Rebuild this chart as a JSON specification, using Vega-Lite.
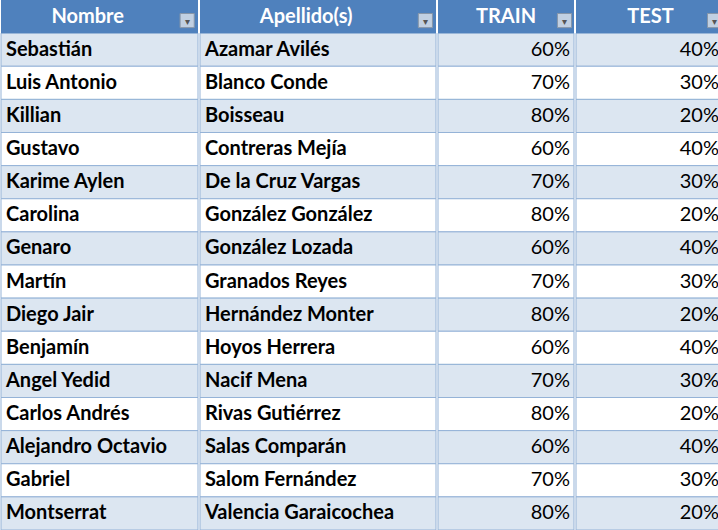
{
  "$schema": "https://vega.github.io/schema/vega-lite/v6.json",
  "padding": 0,
  "spacing": 0,
  "config": {"view": {"stroke": null}, "concat": {"spacing": 0}},
  "datasets": {
    "people": [
      {"i": 1, "nombre": "Sebastián", "apellido": "Azamar Avilés", "train": 0.6, "test": 0.4},
      {"i": 2, "nombre": "Luis Antonio", "apellido": "Blanco Conde", "train": 0.7, "test": 0.3},
      {"i": 3, "nombre": "Killian", "apellido": "Boisseau", "train": 0.8, "test": 0.2},
      {"i": 4, "nombre": "Gustavo", "apellido": "Contreras Mejía", "train": 0.6, "test": 0.4},
      {"i": 5, "nombre": "Karime Aylen", "apellido": "De la Cruz Vargas", "train": 0.7, "test": 0.3},
      {"i": 6, "nombre": "Carolina", "apellido": "González González", "train": 0.8, "test": 0.2},
      {"i": 7, "nombre": "Genaro", "apellido": "González Lozada", "train": 0.6, "test": 0.4},
      {"i": 8, "nombre": "Martín", "apellido": "Granados Reyes", "train": 0.7, "test": 0.3},
      {"i": 9, "nombre": "Diego Jair", "apellido": "Hernández Monter", "train": 0.8, "test": 0.2},
      {"i": 10, "nombre": "Benjamín", "apellido": "Hoyos Herrera", "train": 0.6, "test": 0.4},
      {"i": 11, "nombre": "Angel Yedid", "apellido": "Nacif Mena", "train": 0.7, "test": 0.3},
      {"i": 12, "nombre": "Carlos Andrés", "apellido": "Rivas Gutiérrez", "train": 0.8, "test": 0.2},
      {"i": 13, "nombre": "Alejandro Octavio", "apellido": "Salas Comparán", "train": 0.6, "test": 0.4},
      {"i": 14, "nombre": "Gabriel", "apellido": "Salom Fernández", "train": 0.7, "test": 0.3},
      {"i": 15, "nombre": "Montserrat", "apellido": "Valencia Garaicochea", "train": 0.8, "test": 0.2}
    ]
  },
  "hconcat": [
    {
      "width": 197, "height": 530,
      "encoding": {
        "y": {"field": "i", "type": "ordinal", "scale": {"domain": [0,1,2,3,4,5,6,7,8,9,10,11,12,13,14,15], "paddingInner": 0, "paddingOuter": 0}, "axis": null}
      },
      "layer": [
        {"data": {"name": "people"}, "mark": {"type": "rect", "stroke": "#95B3D7", "strokeWidth": 1},
         "encoding": {"color": {"condition": {"test": "datum.i % 2 == 1", "value": "#DCE6F1"}, "value": "white"}}},
        {"data": {"name": "people"}, "mark": {"type": "text", "align": "left", "dx": 5, "font": "Lato", "fontSize": 20, "fontWeight": "bold", "color": "black", "clip": true},
         "encoding": {"x": {"datum": 0, "type": "quantitative", "scale": {"domain": [0, 1]}, "axis": null}, "text": {"field": "nombre"}}},
        {"data": {"values": [{"i": 0, "h": "Nombre"}]}, "mark": {"type": "rect", "color": "#4F81BD"}, "encoding": {}},
        {"data": {"values": [{"i": 0, "h": "Nombre"}]}, "mark": {"type": "text", "font": "Lato", "fontSize": 20, "fontWeight": "bold", "color": "white"},
         "encoding": {"x": {"datum": 0.44, "type": "quantitative", "scale": {"domain": [0, 1]}, "axis": null}, "text": {"field": "h"}}},
        {"data": {"values": [{"i": 0}]}, "mark": {"type": "point", "shape": "square", "size": 200, "filled": true, "color": "#F2F2F2", "stroke": "#A0A0A0", "strokeWidth": 1, "yOffset": 4},
         "encoding": {"x": {"datum": 0.945, "type": "quantitative", "scale": {"domain": [0, 1]}, "axis": null}}},
        {"data": {"values": [{"i": 0}]}, "mark": {"type": "text", "text": "▾", "fontSize": 10, "color": "#555", "yOffset": 5},
         "encoding": {"x": {"datum": 0.945, "type": "quantitative", "scale": {"domain": [0, 1]}, "axis": null}}}
      ]
    },
    {
      "width": 236, "height": 530,
      "encoding": {
        "y": {"field": "i", "type": "ordinal", "scale": {"domain": [0,1,2,3,4,5,6,7,8,9,10,11,12,13,14,15], "paddingInner": 0, "paddingOuter": 0}, "axis": null}
      },
      "layer": [
        {"data": {"name": "people"}, "mark": {"type": "rect", "stroke": "#95B3D7", "strokeWidth": 1},
         "encoding": {"color": {"condition": {"test": "datum.i % 2 == 1", "value": "#DCE6F1"}, "value": "white"}}},
        {"data": {"name": "people"}, "mark": {"type": "text", "align": "left", "dx": 5, "font": "Lato", "fontSize": 20, "fontWeight": "bold", "color": "black", "clip": true},
         "encoding": {"x": {"datum": 0, "type": "quantitative", "scale": {"domain": [0, 1]}, "axis": null}, "text": {"field": "apellido"}}},
        {"data": {"values": [{"i": 0, "h": "Apellido(s)"}]}, "mark": {"type": "rect", "color": "#4F81BD"}, "encoding": {}},
        {"data": {"values": [{"i": 0, "h": "Apellido(s)"}]}, "mark": {"type": "text", "font": "Lato", "fontSize": 20, "fontWeight": "bold", "color": "white"},
         "encoding": {"x": {"datum": 0.45, "type": "quantitative", "scale": {"domain": [0, 1]}, "axis": null}, "text": {"field": "h"}}},
        {"data": {"values": [{"i": 0}]}, "mark": {"type": "point", "shape": "square", "size": 200, "filled": true, "color": "#F2F2F2", "stroke": "#A0A0A0", "strokeWidth": 1, "yOffset": 4},
         "encoding": {"x": {"datum": 0.955, "type": "quantitative", "scale": {"domain": [0, 1]}, "axis": null}}},
        {"data": {"values": [{"i": 0}]}, "mark": {"type": "text", "text": "▾", "fontSize": 10, "color": "#555", "yOffset": 5},
         "encoding": {"x": {"datum": 0.955, "type": "quantitative", "scale": {"domain": [0, 1]}, "axis": null}}}
      ]
    },
    {
      "width": 136, "height": 530,
      "encoding": {
        "y": {"field": "i", "type": "ordinal", "scale": {"domain": [0,1,2,3,4,5,6,7,8,9,10,11,12,13,14,15], "paddingInner": 0, "paddingOuter": 0}, "axis": null}
      },
      "layer": [
        {"data": {"name": "people"}, "mark": {"type": "rect", "stroke": "#95B3D7", "strokeWidth": 1},
         "encoding": {"color": {"condition": {"test": "datum.i % 2 == 1", "value": "#DCE6F1"}, "value": "white"}}},
        {"data": {"name": "people"}, "mark": {"type": "text", "align": "right", "dx": -4, "font": "Lato", "fontSize": 20, "color": "black"},
         "encoding": {"x": {"datum": 1, "type": "quantitative", "scale": {"domain": [0, 1]}, "axis": null}, "text": {"field": "train", "format": ".0%"}}},
        {"data": {"values": [{"i": 0, "h": "TRAIN"}]}, "mark": {"type": "rect", "color": "#4F81BD"}, "encoding": {}},
        {"data": {"values": [{"i": 0, "h": "TRAIN"}]}, "mark": {"type": "text", "font": "Lato", "fontSize": 20, "fontWeight": "bold", "color": "white"},
         "encoding": {"x": {"datum": 0.5, "type": "quantitative", "scale": {"domain": [0, 1]}, "axis": null}, "text": {"field": "h"}}},
        {"data": {"values": [{"i": 0}]}, "mark": {"type": "point", "shape": "square", "size": 200, "filled": true, "color": "#F2F2F2", "stroke": "#A0A0A0", "strokeWidth": 1, "yOffset": 4},
         "encoding": {"x": {"datum": 0.93, "type": "quantitative", "scale": {"domain": [0, 1]}, "axis": null}}},
        {"data": {"values": [{"i": 0}]}, "mark": {"type": "text", "text": "▾", "fontSize": 10, "color": "#555", "yOffset": 5},
         "encoding": {"x": {"datum": 0.93, "type": "quantitative", "scale": {"domain": [0, 1]}, "axis": null}}}
      ]
    },
    {
      "width": 149, "height": 530,
      "encoding": {
        "y": {"field": "i", "type": "ordinal", "scale": {"domain": [0,1,2,3,4,5,6,7,8,9,10,11,12,13,14,15], "paddingInner": 0, "paddingOuter": 0}, "axis": null}
      },
      "layer": [
        {"data": {"name": "people"}, "mark": {"type": "rect", "stroke": "#95B3D7", "strokeWidth": 1},
         "encoding": {"color": {"condition": {"test": "datum.i % 2 == 1", "value": "#DCE6F1"}, "value": "white"}}},
        {"data": {"name": "people"}, "mark": {"type": "text", "align": "right", "dx": -6, "font": "Lato", "fontSize": 20, "color": "black"},
         "encoding": {"x": {"datum": 1, "type": "quantitative", "scale": {"domain": [0, 1]}, "axis": null}, "text": {"field": "test", "format": ".0%"}}},
        {"data": {"values": [{"i": 0, "h": "TEST"}]}, "mark": {"type": "rect", "color": "#4F81BD"}, "encoding": {}},
        {"data": {"values": [{"i": 0, "h": "TEST"}]}, "mark": {"type": "text", "font": "Lato", "fontSize": 20, "fontWeight": "bold", "color": "white"},
         "encoding": {"x": {"datum": 0.5, "type": "quantitative", "scale": {"domain": [0, 1]}, "axis": null}, "text": {"field": "h"}}},
        {"data": {"values": [{"i": 0}]}, "mark": {"type": "point", "shape": "square", "size": 200, "filled": true, "color": "#F2F2F2", "stroke": "#A0A0A0", "strokeWidth": 1, "yOffset": 4},
         "encoding": {"x": {"datum": 0.93, "type": "quantitative", "scale": {"domain": [0, 1]}, "axis": null}}},
        {"data": {"values": [{"i": 0}]}, "mark": {"type": "text", "text": "▾", "fontSize": 10, "color": "#555", "yOffset": 5},
         "encoding": {"x": {"datum": 0.93, "type": "quantitative", "scale": {"domain": [0, 1]}, "axis": null}}}
      ]
    }
  ]
}
